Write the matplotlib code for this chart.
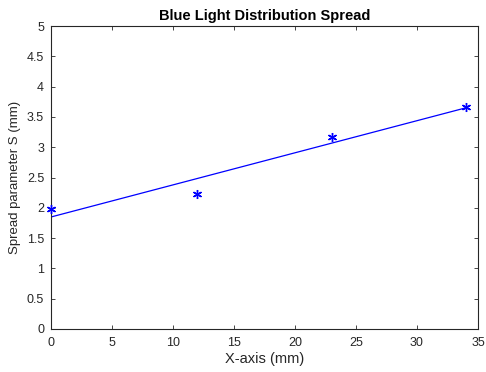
import numpy as np
import matplotlib
matplotlib.use("Agg")
import matplotlib.pyplot as plt

plt.rcParams['font.family'] = ['Liberation Sans', 'DejaVu Sans']

x_mm = [0, 12, 23, 34]
spread_s = [1.98, 2.23, 3.17, 3.67]
x_ticks = [0, 5, 10, 15, 20, 25, 30, 35]
y_ticks = [0, 0.5, 1, 1.5, 2, 2.5, 3, 3.5, 4, 4.5, 5]
y_tick_labels = ['0', '0.5', '1', '1.5', '2', '2.5', '3', '3.5', '4', '4.5', '5']

fig = plt.figure(figsize=(4.86, 3.72), dpi=100)
ax = fig.add_axes([0.105, 0.1156, 0.8785, 0.8144])

coef = np.polyfit(x_mm, spread_s, 1)
xf = np.array([min(x_mm), max(x_mm)])
ax.plot(xf, np.polyval(coef, xf), color='#0000ff', lw=0.9)
ax.plot(x_mm, spread_s, linestyle='none', marker=(6, 2, 0), markersize=6.5,
        markeredgewidth=1.0, color='#0000ff', clip_on=False, zorder=5)

ax.set_xlim(0, 35)
ax.set_ylim(0, 5)
ax.set_xticks(x_ticks)
ax.set_xticklabels([str(t) for t in x_ticks])
ax.set_yticks(y_ticks)
ax.set_yticklabels(y_tick_labels)

c = '#262626'
for s in ax.spines.values():
    s.set_color(c)
    s.set_linewidth(0.8)
ax.tick_params(direction='in', length=3, width=0.6, colors=c, labelsize=9,
               top=True, right=True)
ax.tick_params(axis='x', pad=6)
ax.tick_params(axis='y', pad=5)
ax.set_xlabel('X-axis (mm)', fontsize=10.5, color=c, labelpad=2)
ax.set_ylabel('Spread parameter S (mm)', fontsize=9.5, color=c, labelpad=4)
ax.set_title('Blue Light Distribution Spread', fontsize=10.5, fontweight='bold',
             color='black', pad=4)

fig.savefig('out.png', dpi=100)
